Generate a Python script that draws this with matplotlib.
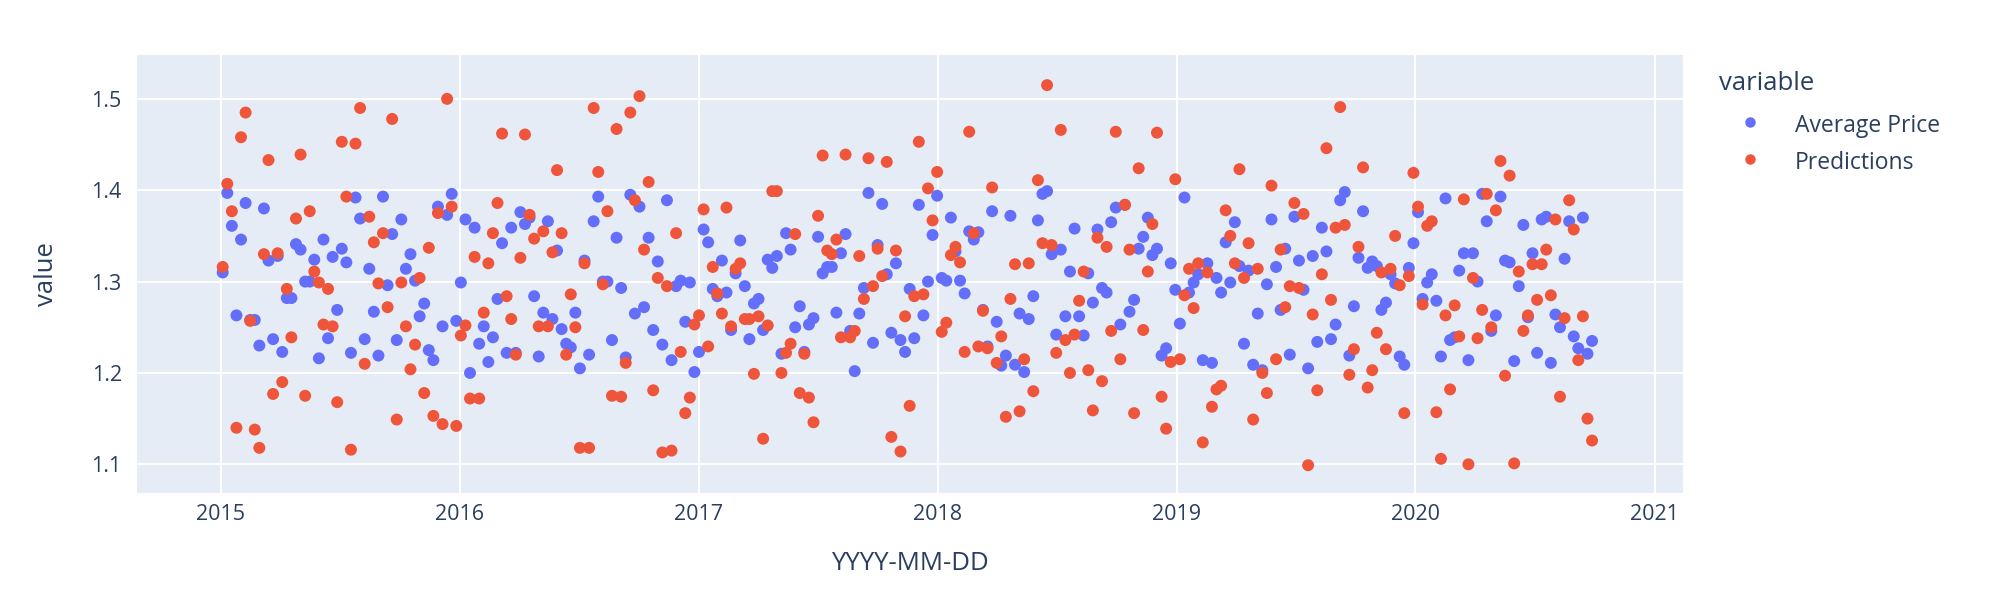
import datetime as dt
import matplotlib
matplotlib.use("Agg")
import matplotlib.pyplot as plt
from matplotlib.lines import Line2D
import pandas as pd

# ---------------- data ----------------
start_date = "2015-01-04"
n_weeks = 300
series_names = ["Average Price", "Predictions"]
year_ticks = [2015, 2016, 2017, 2018, 2019, 2020, 2021]
y_ticks = [1.1, 1.2, 1.3, 1.4, 1.5]

average_price = [
    1.310, 1.397, 1.361, 1.263, 1.346, 1.386, 1.258, 1.258, 1.230, 1.380,
    1.323, 1.237, 1.328, 1.223, 1.282, 1.282, 1.341, 1.335, 1.300, 1.300,
    1.324, 1.216, 1.346, 1.238, 1.327, 1.269, 1.336, 1.321, 1.222, 1.392,
    1.369, 1.237, 1.314, 1.267, 1.219, 1.393, 1.296, 1.352, 1.236, 1.368,
    1.314, 1.330, 1.301, 1.262, 1.276, 1.225, 1.214, 1.382, 1.251, 1.373,
    1.396, 1.257, 1.299, 1.368, 1.200, 1.359, 1.232, 1.251, 1.212, 1.239,
    1.281, 1.342, 1.222, 1.359, 1.222, 1.376, 1.363, 1.370, 1.284, 1.218,
    1.266, 1.366, 1.259, 1.334, 1.248, 1.232, 1.228, 1.266, 1.205, 1.323,
    1.220, 1.366, 1.393, 1.300, 1.300, 1.236, 1.348, 1.293, 1.217, 1.395,
    1.265, 1.382, 1.272, 1.348, 1.247, 1.322, 1.231, 1.389, 1.214, 1.295,
    1.301, 1.256, 1.299, 1.201, 1.223, 1.357, 1.343, 1.292, 1.284, 1.323,
    1.288, 1.247, 1.309, 1.345, 1.295, 1.237, 1.276, 1.281, 1.247, 1.324,
    1.315, 1.328, 1.221, 1.353, 1.335, 1.250, 1.273, 1.223, 1.253, 1.260,
    1.349, 1.309, 1.316, 1.316, 1.266, 1.331, 1.352, 1.246, 1.202, 1.265,
    1.293, 1.397, 1.233, 1.340, 1.385, 1.308, 1.244, 1.320, 1.236, 1.223,
    1.292, 1.238, 1.384, 1.263, 1.300, 1.351, 1.394, 1.304, 1.301, 1.370,
    1.333, 1.301, 1.287, 1.355, 1.346, 1.354, 1.269, 1.229, 1.377, 1.256,
    1.208, 1.219, 1.372, 1.209, 1.265, 1.201, 1.259, 1.284, 1.367, 1.396,
    1.399, 1.330, 1.242, 1.335, 1.262, 1.311, 1.358, 1.262, 1.241, 1.309,
    1.277, 1.357, 1.293, 1.288, 1.365, 1.381, 1.253, 1.384, 1.267, 1.280,
    1.336, 1.349, 1.370, 1.329, 1.336, 1.219, 1.227, 1.320, 1.291, 1.254,
    1.392, 1.288, 1.299, 1.308, 1.214, 1.320, 1.211, 1.304, 1.288, 1.343,
    1.299, 1.365, 1.317, 1.232, 1.312, 1.209, 1.265, 1.203, 1.297, 1.368,
    1.316, 1.269, 1.336, 1.220, 1.371, 1.323, 1.291, 1.205, 1.328, 1.234,
    1.359, 1.333, 1.237, 1.253, 1.389, 1.398, 1.219, 1.273, 1.326, 1.377,
    1.315, 1.322, 1.317, 1.269, 1.277, 1.308, 1.298, 1.218, 1.209, 1.315,
    1.342, 1.376, 1.281, 1.299, 1.308, 1.279, 1.218, 1.391, 1.236, 1.239,
    1.312, 1.331, 1.214, 1.331, 1.300, 1.396, 1.366, 1.246, 1.263, 1.393,
    1.323, 1.321, 1.213, 1.295, 1.362, 1.261, 1.331, 1.222, 1.368, 1.371,
    1.211, 1.264, 1.250, 1.325, 1.366, 1.240, 1.227, 1.370, 1.221, 1.235,
]

predictions = [
    1.316, 1.407, 1.377, 1.140, 1.458, 1.485, 1.257, 1.138, 1.118, 1.330,
    1.433, 1.177, 1.331, 1.190, 1.292, 1.239, 1.369, 1.439, 1.175, 1.377,
    1.311, 1.299, 1.253, 1.292, 1.251, 1.168, 1.453, 1.393, 1.116, 1.451,
    1.490, 1.210, 1.371, 1.343, 1.298, 1.353, 1.272, 1.478, 1.149, 1.299,
    1.251, 1.204, 1.231, 1.304, 1.178, 1.337, 1.153, 1.375, 1.144, 1.500,
    1.382, 1.142, 1.241, 1.252, 1.172, 1.327, 1.172, 1.266, 1.320, 1.353,
    1.386, 1.462, 1.284, 1.259, 1.220, 1.326, 1.461, 1.373, 1.347, 1.251,
    1.355, 1.251, 1.332, 1.422, 1.353, 1.220, 1.286, 1.250, 1.118, 1.320,
    1.118, 1.490, 1.420, 1.297, 1.377, 1.175, 1.467, 1.174, 1.211, 1.485,
    1.389, 1.503, 1.335, 1.409, 1.181, 1.304, 1.113, 1.295, 1.115, 1.353,
    1.223, 1.156, 1.173, 1.253, 1.263, 1.379, 1.229, 1.316, 1.287, 1.265,
    1.381, 1.251, 1.314, 1.320, 1.259, 1.259, 1.199, 1.262, 1.128, 1.252,
    1.399, 1.399, 1.200, 1.222, 1.232, 1.352, 1.178, 1.221, 1.173, 1.146,
    1.372, 1.438, 1.334, 1.330, 1.346, 1.239, 1.439, 1.239, 1.246, 1.328,
    1.281, 1.435, 1.295, 1.336, 1.306, 1.431, 1.130, 1.334, 1.114, 1.262,
    1.164, 1.284, 1.453, 1.286, 1.402, 1.367, 1.420, 1.245, 1.255, 1.329,
    1.338, 1.321, 1.223, 1.464, 1.353, 1.229, 1.268, 1.227, 1.403, 1.211,
    1.240, 1.152, 1.281, 1.319, 1.158, 1.215, 1.320, 1.180, 1.411, 1.342,
    1.515, 1.340, 1.222, 1.466, 1.236, 1.200, 1.242, 1.279, 1.311, 1.203,
    1.159, 1.348, 1.191, 1.338, 1.246, 1.464, 1.215, 1.384, 1.335, 1.156,
    1.424, 1.247, 1.311, 1.363, 1.463, 1.174, 1.139, 1.212, 1.412, 1.215,
    1.285, 1.314, 1.271, 1.320, 1.124, 1.310, 1.163, 1.182, 1.186, 1.378,
    1.350, 1.320, 1.423, 1.304, 1.342, 1.149, 1.314, 1.200, 1.178, 1.405,
    1.215, 1.335, 1.272, 1.295, 1.386, 1.293, 1.374, 1.099, 1.264, 1.181,
    1.308, 1.446, 1.280, 1.359, 1.491, 1.362, 1.198, 1.226, 1.338, 1.425,
    1.184, 1.203, 1.244, 1.310, 1.226, 1.314, 1.350, 1.296, 1.156, 1.306,
    1.419, 1.382, 1.275, 1.361, 1.366, 1.157, 1.106, 1.263, 1.182, 1.274,
    1.240, 1.390, 1.100, 1.304, 1.238, 1.269, 1.396, 1.250, 1.378, 1.432,
    1.197, 1.416, 1.101, 1.311, 1.246, 1.263, 1.319, 1.280, 1.319, 1.335,
    1.285, 1.368, 1.174, 1.260, 1.389, 1.357, 1.214, 1.262, 1.150, 1.126,
]

# ---------------- style ----------------
BLUE = "#636EFA"
RED = "#EF553B"
BG = "#E5ECF6"
TXT = "#2A3F5F"
FONT = ["Open Sans", "DejaVu Sans"]
plt.rcParams["font.family"] = FONT

W, H = 1994, 602
fig = plt.figure(figsize=(W / 100, H / 100), dpi=100)
fig.patch.set_facecolor("white")

L, R, T, B = 137, 1683, 55, 493
ax = fig.add_axes([L / W, 1 - B / H, (R - L) / W, (B - T) / H])
ax.set_facecolor(BG)

dates = pd.date_range(start_date, periods=n_weeks, freq="7D")
colors = [BLUE, RED]
for name, vals, c in zip(series_names, [average_price, predictions], colors):
    ax.scatter(dates, vals, s=74, color=c, edgecolors="none", zorder=3, label=name)

ax.set_xlim(dt.datetime(2014, 8, 26), dt.datetime(2021, 2, 13))
ax.set_ylim(1.0686, 1.548)

ax.set_xticks([dt.datetime(y, 1, 1) for y in year_ticks])
ax.set_xticklabels([str(y) for y in year_ticks])
ax.set_yticks(y_ticks)
ax.set_yticklabels([f"{v:.1f}" for v in y_ticks])

ax.grid(True, color="white", linewidth=1.4, zorder=0)
ax.set_axisbelow(True)
for s in ax.spines.values():
    s.set_visible(False)
ax.tick_params(axis="both", length=0, labelsize=15.5, labelcolor=TXT)
ax.tick_params(axis="x", pad=8)
ax.tick_params(axis="y", pad=11)

fig.text(46 / W, 1 - 274 / H, "value", rotation=90, ha="center", va="center",
         fontsize=18.5, color=TXT)
fig.text(910 / W, 1 - 563 / H, "YYYY-MM-DD", ha="center", va="center",
         fontsize=18.5, color=TXT)

# legend
fig.text(1719 / W, 1 - 83 / H, "variable", ha="left", va="center",
         fontsize=18.5, color=TXT)
for i, (name, c) in enumerate(zip(series_names, colors)):
    ym = 1 - (122 + 37 * i) / H
    yt = 1 - (126 + 37 * i) / H
    fig.add_artist(Line2D([1750 / W], [ym], marker="o", markersize=7.5,
                          color=c, markeredgewidth=0, linestyle="none",
                          transform=fig.transFigure))
    fig.text(1795 / W, yt, name, ha="left", va="center", fontsize=16.5, color=TXT)

fig.savefig("out.png", dpi=100, facecolor="white")
